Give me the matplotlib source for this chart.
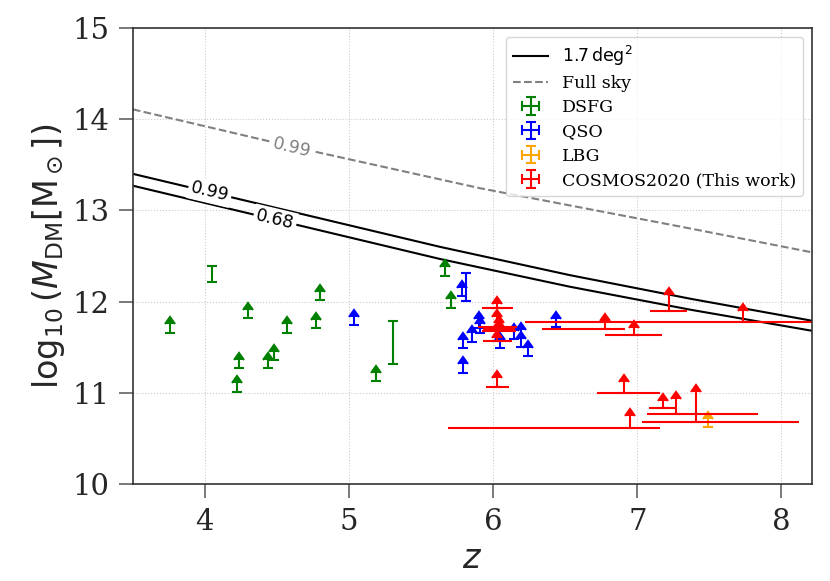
import numpy as np
import matplotlib.pyplot as plt
from matplotlib.lines import Line2D

plt.rcParams['font.family'] = 'serif'
plt.rcParams['mathtext.fontset'] = 'dejavusans'

# detection limit curves
z_field = [3.5, 5.63, 6.53, 7.37, 8.21]
m99_field = [13.40, 12.60, 12.29, 12.03, 11.79]
m68_field = [13.27, 12.467, 12.163, 11.91, 11.68]
z_sky = [3.5, 4.6, 5.91, 7.37, 8.21]
m99_sky = [14.107, 13.70, 13.242, 12.80, 12.54]

# DSFG: lower limits
dsfg_z = [3.757, 4.296, 4.236, 4.224, 4.4375, 4.48, 4.569, 4.773, 4.80, 5.185, 5.665, 5.706]
dsfg_m = [11.66, 11.817, 11.269, 11.012, 11.27, 11.36, 11.66, 11.71, 12.02, 11.13, 12.284, 11.933]
dsfg_err = [0.09, 0.09, 0.09, 0.09, 0.09, 0.09, 0.09, 0.09, 0.09, 0.09, 0.09, 0.09]
# DSFG: measurements
dsfg2_z = [4.05, 5.308]
dsfg2_m = [12.30, 11.55]
dsfg2_err = [0.09, 0.24]

# QSO: lower limits
qso_z = [5.035, 5.785, 5.79, 5.794, 5.856, 5.905, 5.91, 6.05, 6.146, 6.194, 6.194, 6.24, 6.435]
qso_m = [11.74, 12.06, 11.49, 11.22, 11.56, 11.714, 11.66, 11.49, 11.59, 11.60, 11.50, 11.40, 11.72]
qso_err = [0.09, 0.09, 0.09, 0.09, 0.09, 0.09, 0.09, 0.09, 0.09, 0.09, 0.09, 0.09, 0.09]
# QSO: measurement
qso2_z = [5.8125]
qso2_m = [12.16]
qso2_err = [0.15]

# LBG: lower limit
lbg_z = [7.49]
lbg_m = [10.62]
lbg_err = [0.095]

# COSMOS2020 (this work): lower limits with asymmetric redshift ranges
cos_z = [6.03, 6.03, 6.04, 6.04, 6.03, 6.03, 6.778, 6.979, 7.22, 7.73,
         6.907, 7.178, 7.27, 7.41, 6.949]
cos_m = [11.93, 11.725, 11.70, 11.68, 11.565, 11.067, 11.70, 11.634, 11.90, 11.773,
         11.00, 10.837, 10.768, 10.68, 10.617]
cos_zlo = [0.11, 0.133, 0.11, 0.12, 0.10, 0.08, 0.44, 0.20, 0.135, 1.51,
           0.19, 0.10, 0.20, 0.38, 1.26]
cos_zhi = [0.11, 0.133, 0.11, 0.12, 0.10, 0.08, 0.134, 0.19, 0.125, 1.51,
           0.25, 0.093, 0.57, 0.71, 0.21]
cos_err = [0.04, 0.11, 0.066, 0.04, 0.04, 0.095, 0.085, 0.077, 0.176, 0.12,
           0.114, 0.07, 0.165, 0.325, 0.132]

fig, ax = plt.subplots(figsize=(8.3, 5.81), dpi=100)
fig.subplots_adjust(left=0.160, right=0.978, bottom=0.167, top=0.952)

ax.plot(z_field, m99_field, color='black', lw=1.5)
ax.plot(z_field, m68_field, color='black', lw=1.5)
ax.plot(z_sky, m99_sky, color='gray', lw=1.5, ls='--')

# inline contour-style labels
lab = dict(ha='center', va='center', fontsize=12.5, family='DejaVu Sans',
           bbox=dict(boxstyle='square,pad=0.15', fc='white', ec='none'))
ax.text(4.035, 13.205, '0.99', rotation=-13.4, color='black', **lab)
ax.text(4.486, 12.895, '0.68', rotation=-13.4, color='black', **lab)
ax.text(4.606, 13.69, '0.99', rotation=-13.6, color='gray', **lab)

eb = dict(fmt='none', capsize=3.5, elinewidth=1.5, capthick=1.5)
ax.errorbar(dsfg_z, dsfg_m, yerr=dsfg_err, lolims=True, color='green', **eb)
ax.errorbar(dsfg2_z, dsfg2_m, yerr=dsfg2_err, color='green', **eb)
ax.errorbar(qso_z, qso_m, yerr=qso_err, lolims=True, color='blue', **eb)
ax.errorbar(qso2_z, qso2_m, yerr=qso2_err, color='blue', **eb)
ax.errorbar(lbg_z, lbg_m, yerr=lbg_err, lolims=True, color='orange', **eb)
ax.errorbar(cos_z, cos_m, xerr=[cos_zlo, cos_zhi], fmt='none', capsize=0,
            elinewidth=1.5, color='red')
ax.errorbar(cos_z, cos_m, yerr=cos_err, lolims=True, color='red', **eb)

# legend entries
handles = [Line2D([], [], color='black', lw=1.5),
           Line2D([], [], color='gray', lw=1.5, ls='--')]
names = [r'$1.7\,\mathrm{deg}^2$', 'Full sky']
for c, n in [('green', 'DSFG'), ('blue', 'QSO'), ('orange', 'LBG'),
             ('red', 'COSMOS2020 (This work)')]:
    h = ax.errorbar([np.nan], [np.nan], xerr=[np.nan], yerr=[np.nan], color=c, **eb)
    handles.append(h)
    names.append(n)
ax.legend(handles, names, loc='upper right', fontsize=12.5, frameon=True,
          edgecolor='#cccccc', labelspacing=0.42)

ax.set_xlim(3.5, 8.21)
ax.set_ylim(10, 15)
ax.set_xticks([4, 5, 6, 7, 8])
ax.set_yticks([10, 11, 12, 13, 14, 15])
ax.grid(True, ls=':', color='#cccccc', lw=0.8)
ax.set_axisbelow(True)
for s in ax.spines.values():
    s.set_color('#333333')
    s.set_linewidth(1.2)
ax.tick_params(direction='out', length=10, width=1.1, color='#555555',
               labelsize=21, labelcolor='#262626', pad=7)
ax.set_xlabel(r'$z$', fontsize=24, color='#262626', labelpad=5)
ax.set_ylabel(r'$\log_{10}(M_{\rm DM}[\rm M_\odot])$', fontsize=24, color='#262626')

fig.savefig('out.png', dpi=100)
